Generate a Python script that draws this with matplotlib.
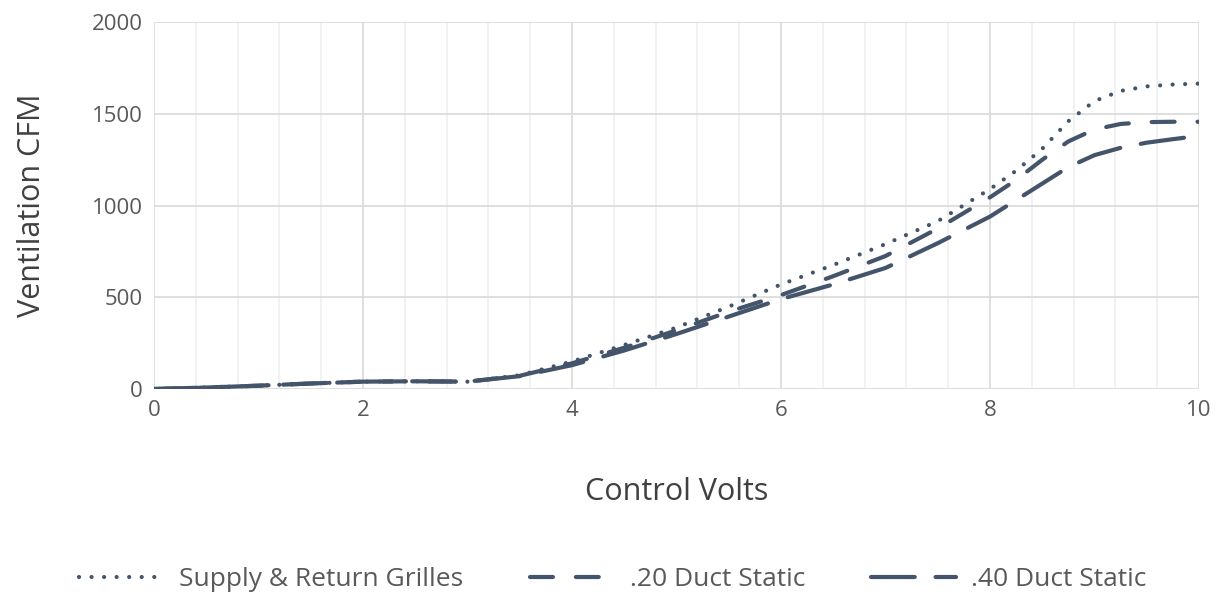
import matplotlib
matplotlib.use("Agg")
import matplotlib.pyplot as plt
from matplotlib.ticker import MultipleLocator

volts = [0, 0.5, 1, 1.5, 2, 2.5, 3, 3.5, 4, 4.5, 5, 5.5, 6, 6.5, 7, 7.5, 8, 8.25, 8.5, 8.75, 9, 9.25, 9.5, 9.75, 10]
grilles = [0, 8, 18, 30, 40, 42, 40, 75, 150, 240, 335, 449, 570, 676, 790, 915, 1090, 1190, 1310, 1460, 1570, 1625, 1650, 1660, 1665]
duct20 = [0, 8, 18, 30, 40, 42, 40, 72, 140, 225, 320, 421, 512, 615, 725, 875, 1045, 1140, 1250, 1350, 1415, 1445, 1455, 1457, 1457]
duct40 = [0, 8, 18, 30, 40, 42, 40, 70, 130, 210, 300, 395, 490, 570, 660, 795, 940, 1030, 1120, 1210, 1275, 1315, 1343, 1362, 1380]
labels = ["Supply & Return Grilles", ".20 Duct Static", ".40 Duct Static"]

plt.rcParams['font.family'] = ['Open Sans', 'DejaVu Sans']
color = '#44546A'
fig = plt.figure(figsize=(12.26, 5.99), dpi=100)
ax = fig.add_axes([0.1256, 0.3506, 0.8524, 0.6124])

lw = 3.0
ax.plot(volts, grilles, color=color, lw=lw, linestyle=(0, (0.01, 3.0)), dash_capstyle='round', label=labels[0])
ax.plot(volts, duct20, color=color, lw=lw, linestyle=(0, (5.5, 5.5)), dash_capstyle='round', label=labels[1])
ax.plot(volts, duct40, color=color, lw=lw, linestyle=(0, (10.5, 5)), dash_capstyle='round', label=labels[2])

ax.set_xlim(0, 10)
ax.set_ylim(0, 2000)
ax.xaxis.set_major_locator(MultipleLocator(2))
ax.xaxis.set_minor_locator(MultipleLocator(0.4))
ax.yaxis.set_major_locator(MultipleLocator(500))
ax.grid(which='major', color='#D9D9D9', lw=1.2)
ax.grid(which='minor', axis='x', color='#F0F0F0', lw=1.2)
ax.set_axisbelow(True)
for s in ax.spines.values():
    s.set_visible(False)
ax.tick_params(which='both', length=0, labelsize=16, colors='#595959', pad=8)
ax.set_xlabel('Control Volts', fontsize=22, color='#404040', labelpad=40)
ax.set_ylabel('Ventilation CFM', fontsize=22, color='#404040', labelpad=32)

fig.legend(loc='center', bbox_to_anchor=(0.5, 0.032), ncol=3, frameon=False,
           fontsize=19, handlelength=3.2, handletextpad=0.6, columnspacing=2.5,
           labelcolor='#595959')
fig.savefig('out.png', dpi=100)
